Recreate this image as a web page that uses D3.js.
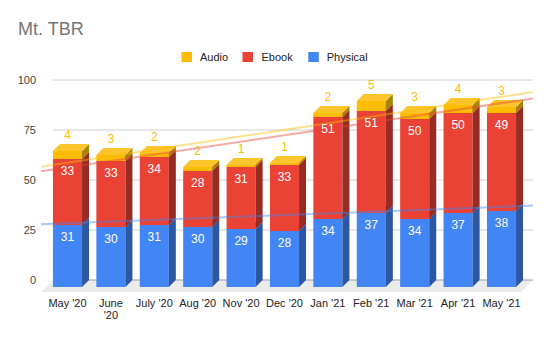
<!DOCTYPE html>
<html><head><meta charset="utf-8">
<script src="https://cdn.jsdelivr.net/npm/d3@7"></script>
<style>body{margin:0;background:#fff}svg{display:block;font-family:"Liberation Sans",Arial,sans-serif}</style>
</head><body><svg id="c" width="550" height="340"></svg>
<script>
const categories = ["May '20","June '20","July '20","Aug '20","Nov '20","Dec '20","Jan '21","Feb '21","Mar '21","Apr '21","May '21"];
const tickLines = [["May '20"],["June","'20"],["July '20"],["Aug '20"],["Nov '20"],["Dec '20"],["Jan '21"],["Feb '21"],["Mar '21"],["Apr '21"],["May '21"]];
const physical = [31,30,31,30,29,28,34,37,34,37,38];
const ebook    = [33,33,34,28,31,33,51,51,50,50,49];
const audio    = [4,3,2,2,1,1,2,5,3,4,3];
const seriesNames = ["Physical","Ebook","Audio"];
const yTicks = [0,25,50,75,100];

const colors = {Physical:"#4285f4", Ebook:"#ea4335", Audio:"#fbbc04"};
const sideColors = {Physical:"#2c57a3", Ebook:"#992c22", Audio:"#a68507"};
const topColors = {Physical:"#5b95f6", Ebook:"#ee5b4f", Audio:"#fcc52e"};

const svg = d3.select("#c");
const DX = 7, DY = -7;
const x = d3.scaleBand().domain(categories).range([45.8, 523.2]).paddingInner(0.33).paddingOuter(0.165);
const yFront = d3.scaleLinear().domain([0,100]).range([287,87]);
const yBack = d3.scaleLinear().domain([0,100]).range([280,80]);

// title
svg.append("text").attr("x",18).attr("y",35).attr("font-size",18).attr("fill","#757575").text("Mt. TBR");

// legend
const legendItems = [["Audio",181.5,200],["Ebook",242.5,261.5],["Physical",308.3,326.7]];
legendItems.forEach(([n,sx,tx])=>{
  svg.append("rect").attr("x",sx).attr("y",52).attr("width",10.5).attr("height",10).attr("fill",colors[n]);
  svg.append("text").attr("x",tx).attr("y",61).attr("font-size",11).attr("fill","#222").text(n);
});

// floor
const backL = 53, backR = 533;
svg.append("path").attr("d",`M${backL},280 L${backR},280 L${backR-12},292 L${backL-12},292 Z`).attr("fill","#ebebeb");

// gridlines
yTicks.forEach(t=>{
  svg.append("line").attr("x1",backL).attr("x2",backR).attr("y1",yBack(t)).attr("y2",yBack(t))
    .attr("stroke", t===0 ? "#9e9e9e" : "#d0d0d0").attr("stroke-width",1);
  svg.append("text").attr("x",36).attr("y",yBack(t)).attr("dy","0.35em").attr("text-anchor","end")
    .attr("font-size",11).attr("fill","#444").text(t);
});

// bars
const data = categories.map((c,i)=>({c, Physical:physical[i], Ebook:ebook[i], Audio:audio[i]}));
const stack = d3.stack().keys(seriesNames)(data);
const bw = x.bandwidth();
const g = svg.append("g");
categories.forEach((c,i)=>{
  const x0 = x(c), x1 = x0 + bw;
  stack.forEach(s=>{
    const key = s.key, v0 = s[i][0], v1 = s[i][1];
    const yt = yFront(v1), yb = yFront(v0);
    g.append("rect").attr("x",x0).attr("y",yt).attr("width",bw).attr("height",yb-yt).attr("fill",colors[key]);
    g.append("path").attr("d",`M${x1},${yb} L${x1+DX},${yb+DY} L${x1+DX},${yt+DY} L${x1},${yt} Z`).attr("fill",sideColors[key]);
    g.append("path").attr("d",`M${x0},${yt} L${x0+DX},${yt+DY} L${x1+DX},${yt+DY} L${x1},${yt} Z`).attr("fill",topColors[key]);
  });
});

// trendlines (linear regression on stacked values)
const step = x.step();
const cx0 = x(categories[0]) + bw/2 + DX;
const pxToIdx = px => (px - cx0)/step;
const n = categories.length;
stack.forEach(s=>{
  const ys = s.map(d=>d[1]);
  const mx = (n-1)/2, my = d3.mean(ys);
  let sxy=0, sxx=0;
  ys.forEach((v,i)=>{sxy+=(i-mx)*(v-my); sxx+=(i-mx)*(i-mx);});
  const slope = sxy/sxx, icpt = my - slope*mx;
  const xa = 41, xb = 533;
  const f = px => yBack(icpt + slope*pxToIdx(px));
  svg.append("line").attr("x1",xa).attr("x2",xb).attr("y1",f(xa)).attr("y2",f(xb))
    .attr("stroke",colors[s.key]).attr("stroke-width",2).attr("stroke-opacity",0.45);
});

// value labels
categories.forEach((c,i)=>{
  const cx = x(c) + bw/2;
  stack.forEach(s=>{
    const key = s.key, v0 = s[i][0], v1 = s[i][1];
    const val = v1 - v0;
    if (key === "Audio") {
      svg.append("text").attr("x",cx).attr("y",yFront(v1)-12).attr("text-anchor","middle")
        .attr("font-size",12).attr("fill","#fbbc04").text(val);
    } else {
      svg.append("text").attr("x",cx).attr("y",yFront(v1)+16).attr("text-anchor","middle")
        .attr("font-size",12).attr("fill","#fff").text(val);
    }
  });
});

// x labels
categories.forEach((c,i)=>{
  const cx = x(c) + bw/2;
  const t = svg.append("text").attr("text-anchor","middle").attr("font-size",11).attr("fill","#222");
  tickLines[i].forEach((ln,k)=>{
    t.append("tspan").attr("x",cx).attr("y",307+k*12).text(ln);
  });
});
</script></body></html>
